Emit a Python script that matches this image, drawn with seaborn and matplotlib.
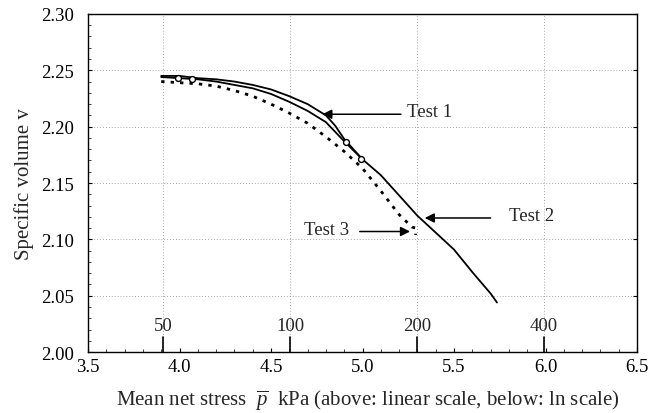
import numpy as np
import pandas as pd
import matplotlib
matplotlib.use("Agg")
import matplotlib.pyplot as plt
import seaborn as sns
from matplotlib.ticker import MultipleLocator

# ---- data (x = ln of mean net stress, y = specific volume) ----
test1_lnp = [3.90, 4.00, 4.10, 4.20, 4.30, 4.40, 4.50, 4.60, 4.70, 4.80, 4.85, 4.90, 4.95, 5.00]
test1_v = [2.245, 2.245, 2.243, 2.242, 2.240, 2.237, 2.233, 2.227, 2.220, 2.210, 2.201, 2.189, 2.180, 2.171]

test2_lnp = [3.90, 4.00, 4.10, 4.20, 4.30, 4.40, 4.50, 4.60, 4.70, 4.80, 4.90, 5.00, 5.10, 5.20,
             5.30, 5.40, 5.50, 5.60, 5.70, 5.735]
test2_v = [2.244, 2.243, 2.242, 2.240, 2.237, 2.234, 2.229, 2.222, 2.214, 2.204, 2.187, 2.171, 2.157, 2.139,
           2.121, 2.106, 2.091, 2.071, 2.052, 2.044]

test3_lnp = [3.90, 4.00, 4.10, 4.20, 4.30, 4.40, 4.50, 4.60, 4.70, 4.80, 4.90, 5.00, 5.10, 5.20, 5.27, 5.29, 5.29]
test3_v = [2.240, 2.239, 2.238, 2.236, 2.232, 2.227, 2.220, 2.212, 2.203, 2.191, 2.178, 2.163, 2.143, 2.122,
           2.111, 2.110, 2.104]

marker_lnp = [3.99, 4.07, 4.91, 4.99]
marker_v = [2.243, 2.242, 2.186, 2.171]

linear_ticks = [50, 100, 200, 400]
y_ticks = [2.00, 2.05, 2.10, 2.15, 2.20, 2.25, 2.30]
x_ticks = [3.5, 4.0, 4.5, 5.0, 5.5, 6.0, 6.5]

# ---- style ----
sns.set_style("ticks")
plt.rcParams["font.family"] = ["Liberation Serif", "DejaVu Serif"]
plt.rcParams["mathtext.fontset"] = "custom"
plt.rcParams["mathtext.rm"] = "Liberation Serif"
plt.rcParams["mathtext.it"] = "Liberation Serif:italic"

FS = 13.5
LFS = 15.0
fig = plt.figure(figsize=(6.52, 4.14), dpi=100)
ax = fig.add_axes([0.135, 0.147, 0.842, 0.817])

df = pd.concat([
    pd.DataFrame({"lnp": test1_lnp, "v": test1_v, "test": "Test 1"}),
    pd.DataFrame({"lnp": test2_lnp, "v": test2_v, "test": "Test 2"}),
    pd.DataFrame({"lnp": test3_lnp, "v": test3_v, "test": "Test 3"}),
])

for name, ls, lw in [("Test 1", "-", 1.3), ("Test 2", "-", 1.3), ("Test 3", (0, (1.2, 2.2)), 2.0)]:
    sns.lineplot(data=df[df["test"] == name], x="lnp", y="v", ax=ax, color="black",
                 linestyle=ls, linewidth=lw, sort=False, estimator=None, legend=False)

sns.scatterplot(x=marker_lnp, y=marker_v, ax=ax, s=18, facecolor="white", edgecolor="black",
                linewidth=1.0, zorder=5, legend=False)

ax.set_xlim(3.5, 6.5)
ax.set_ylim(2.00, 2.30)
ax.set_xticks(x_ticks)
ax.set_xticklabels([f"{t:.1f}" for t in x_ticks])
ax.set_yticks(y_ticks)
ax.set_yticklabels([f"{t:.2f}" for t in y_ticks])
ax.xaxis.set_minor_locator(MultipleLocator(0.1))
ax.yaxis.set_minor_locator(MultipleLocator(0.01))
ax.tick_params(axis="both", which="major", direction="in", length=3, width=0.8,
               labelsize=FS, colors="black", right=True)
ax.tick_params(axis="both", which="minor", direction="in", length=2.5, width=0.6, right=False)
ax.tick_params(axis="x", which="major", pad=4)
ax.tick_params(axis="y", which="major", pad=10)

for s in ax.spines.values():
    s.set_linewidth(1.0)
    s.set_color("black")

# grid
grid_ls = (0, (1, 2.5))
for yv in y_ticks[1:-1]:
    ax.axhline(yv, color="#8a8a8a", lw=0.6, ls=grid_ls, zorder=0)
for lv in linear_ticks:
    ax.axvline(np.log(lv), color="#8a8a8a", lw=0.6, ls=grid_ls, zorder=0)
    ax.plot([np.log(lv), np.log(lv)], [2.00, 2.013], color="black", lw=1.2)
    ax.text(np.log(lv), 2.016, str(lv), ha="center", va="bottom", fontsize=FS)

ax.set_xlabel(r"Mean net stress  $\overline{p}$  kPa (above: linear scale, below: ln scale)",
              fontsize=LFS, labelpad=0)
ax.xaxis.set_label_coords(0.51, -0.105)
ax.set_ylabel("Specific volume v", fontsize=LFS, labelpad=5)

arrow = dict(arrowstyle="-|>", color="black", lw=1.1, mutation_scale=14, shrinkA=0, shrinkB=0)
ax.annotate("", xy=(4.78, 2.211), xytext=(5.21, 2.211), arrowprops=arrow)
ax.text(5.245, 2.213, "Test 1", ha="left", va="center", fontsize=FS)
ax.annotate("", xy=(5.34, 2.119), xytext=(5.70, 2.119), arrowprops=arrow)
ax.text(5.80, 2.121, "Test 2", ha="left", va="center", fontsize=FS)
ax.annotate("", xy=(5.26, 2.107), xytext=(4.985, 2.107), arrowprops=arrow)
ax.text(4.925, 2.109, "Test 3", ha="right", va="center", fontsize=FS)

fig.savefig("out.png", dpi=100)
